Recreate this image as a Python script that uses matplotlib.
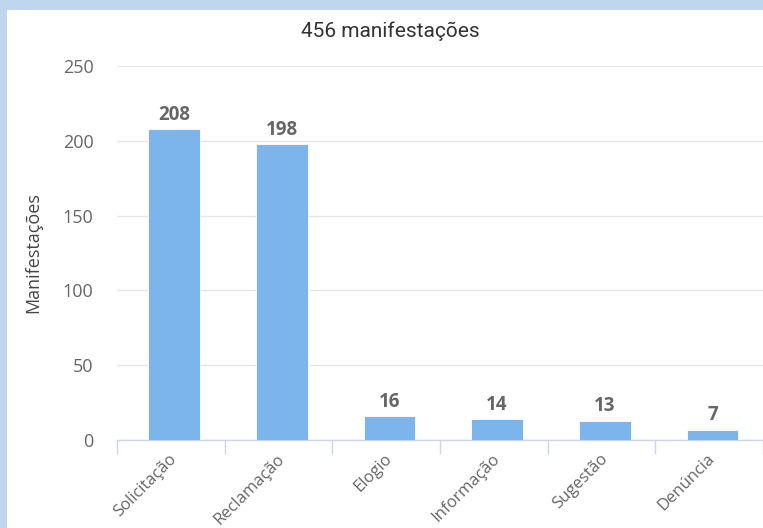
import matplotlib.pyplot as plt
from matplotlib.patches import Rectangle
from matplotlib.transforms import ScaledTranslation
import numpy as np

# dados das manifestacoes
categorias = ['Solicitação', 'Reclamação', 'Elogio', 'Informação', 'Sugestão', 'Denúncia']
valores = [208, 198, 16, 14, 13, 7]
titulo = '456 manifestações'
yticks = [0, 50, 100, 150, 200, 250]

plt.rcParams['font.family'] = ['Open Sans', 'DejaVu Sans']

fig = plt.figure(figsize=(7.63, 5.28), dpi=100)
fig.patch.set_facecolor('#bfd6ee')
# fundo branco dentro da borda azul
fundo = Rectangle((7/763, 0), 1, 1 - 10/528, transform=fig.transFigure,
                  facecolor='white', edgecolor='none', zorder=-10)
fig.add_artist(fundo)

ax = fig.add_axes([117/763, 88/528, 1 - 117/763, (440 - 66)/528])
ax.set_facecolor('none')

x = np.arange(len(categorias))
ax.bar(x + 0.03, valores, width=0.48, color='#7cb5ec', edgecolor='white', lw=0.6, zorder=3)
for xi, v in zip(x, valores):
    ax.annotate(str(v), (xi + 0.03, v), xytext=(0, 3), textcoords='offset points',
                ha='center', va='bottom', fontsize=13.5, fontweight='bold',
                color='#666666', zorder=4)

ax.set_xlim(-0.5, len(categorias) - 0.5)
ax.set_ylim(0, 250)
ax.set_yticks(yticks)
ax.grid(axis='y', color='#e6e6e6', lw=1, zorder=0)
ax.tick_params(axis='y', length=0, pad=17, labelsize=13, labelcolor='#666666')

ax.set_xticks(x)
ax.set_xticklabels(categorias, rotation=45, ha='right', rotation_mode='anchor',
                   fontsize=12, color='#666666')
ax.tick_params(axis='x', which='major', length=0, pad=8)
desloc = ScaledTranslation(-0.02, 0, fig.dpi_scale_trans)
for lab in ax.get_xticklabels():
    lab.set_transform(lab.get_transform() + desloc)
ax.set_xticks(np.arange(-0.5, len(categorias), 1), minor=True)
ax.tick_params(axis='x', which='minor', length=10, width=1, color='#ccd6eb')

for s in ['top', 'right', 'left']:
    ax.spines[s].set_visible(False)
ax.spines['bottom'].set_color('#ccd6eb')
ax.spines['bottom'].set_linewidth(1)

ax.set_ylabel('Manifestações', fontsize=13, color='#444444')
ax.yaxis.set_label_coords(33/763, 1 - 253/528, transform=fig.transFigure)
ax.yaxis.label.set_verticalalignment('center')
fig.text(390/763, 1 - 31/528, titulo, ha='center', va='center', fontsize=15,
         color='#333333', family=['Roboto', 'DejaVu Sans'])

fig.savefig('out.png', dpi=100)
